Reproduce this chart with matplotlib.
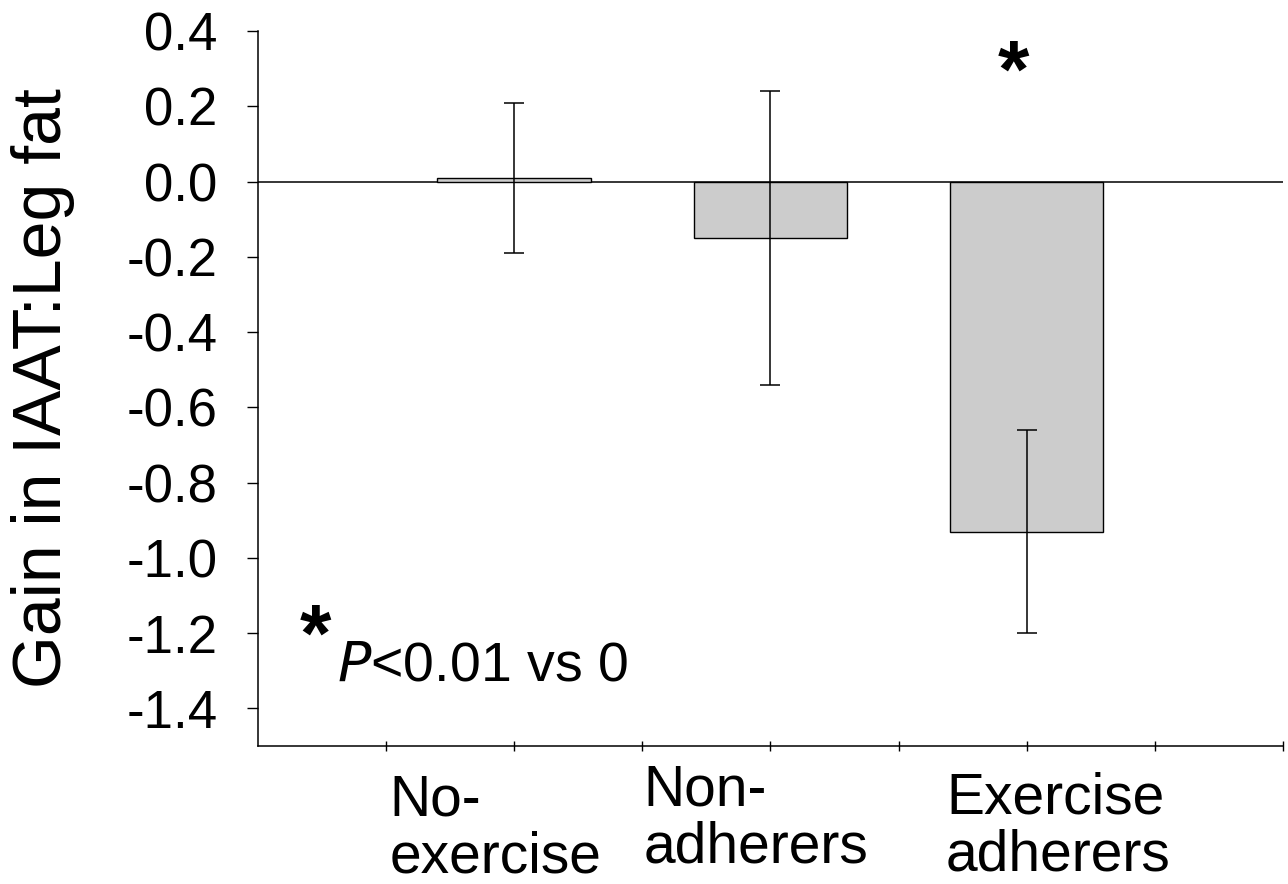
import numpy as np
import matplotlib
matplotlib.use("Agg")
import matplotlib.pyplot as plt
import matplotlib.transforms as mtrans

plt.rcParams["font.family"] = ["Liberation Sans", "DejaVu Sans"]

# dados
grupos = ["No-\nexercise", "Non-\nadherers", "Exercise\nadherers"]
ganho = [0.01, -0.15, -0.93]
erro = [0.20, 0.39, 0.27]
yticks = [0.4, 0.2, 0.0, -0.2, -0.4, -0.6, -0.8, -1.0, -1.2, -1.4]

fig = plt.figure(figsize=(12.88, 8.84), dpi=100)
ax = fig.add_axes([0.2003, 0.1561, 0.7957, 0.8088])

x = np.arange(1, len(grupos) + 1)
ax.bar(x, ganho, width=0.6, color="#cccccc", edgecolor="black", linewidth=1.0, zorder=2)
ax.errorbar(x, ganho, yerr=erro, fmt="none", ecolor="black", elinewidth=1.1,
            capsize=7.5, capthick=1.1, zorder=3)
ax.axhline(0, color="black", lw=1.1, zorder=1)

ax.set_xlim(0, 4)
ax.set_ylim(-1.5, 0.4)
ax.set_yticks(yticks)
ax.set_yticklabels([f"{v:.1f}" for v in yticks])
ax.set_xticks(np.arange(0.5, 4.01, 0.5))
ax.set_xticklabels([])
ax.tick_params(axis="y", direction="out", length=8, width=1.0, labelsize=38, pad=21)
ax.tick_params(axis="x", direction="inout", length=7, width=1.0)

for s in ["top", "right"]:
    ax.spines[s].set_visible(False)
for s in ["left", "bottom"]:
    ax.spines[s].set_linewidth(1.1)

ax.set_ylabel("Gain in IAAT:Leg fat", fontsize=49)
ax.yaxis.set_label_coords(-0.179, 0.5)

# rotulos das categorias (caixas de texto alinhadas a esquerda)
trans = mtrans.blended_transform_factory(ax.transData, ax.transAxes)
pos_x = [0.514, 1.506, 2.685]
pos_y = [-0.038, -0.024, -0.035]
for g, px, py in zip(grupos, pos_x, pos_y):
    ax.text(px, py, g, transform=trans, ha="left", va="top", fontsize=41,
            linespacing=1.08, multialignment="left")

# asteriscos e nota
ax.text(2.95, 0.227, "*", ha="center", va="baseline", fontsize=58, fontweight="bold")
ax.text(0.225, -1.274, "*", ha="center", va="baseline", fontsize=58, fontweight="bold")
ax.text(0.31, -1.327, "$\\it{P}$<0.01 vs 0", ha="left", va="baseline", fontsize=40)

fig.savefig("out.png", dpi=100)
